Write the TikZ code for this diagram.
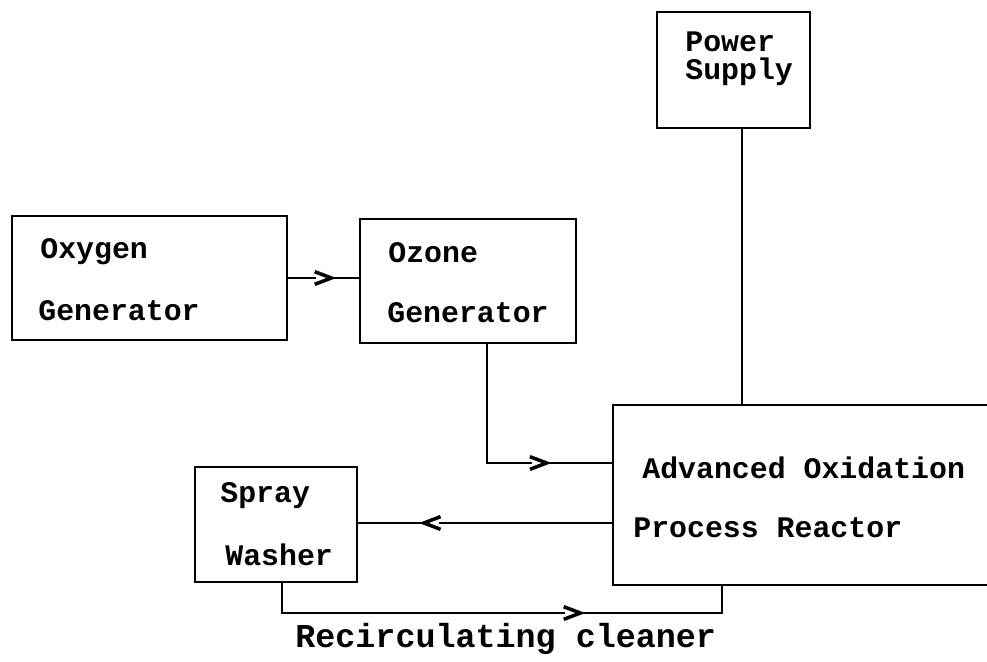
\documentclass[tikz,border=0pt]{standalone}
\usepackage{fontspec}
\usepackage{tikz}
\usetikzlibrary{decorations.markings}
\newfontfamily\typer{Liberation Mono}
\newcommand{\boxfont}{\typer\bfseries\fontsize{17}{20}\selectfont}
\newcommand{\capfont}{\typer\bfseries\fontsize{19}{22}\selectfont}

\begin{document}
\begin{tikzpicture}[x=0.02cm, y=-0.02cm,
    box/.style={draw, line width=1.5pt, inner sep=0pt},
    lbl/.style={anchor=base west, inner sep=0pt, font=\boxfont},
    wire/.style={line width=1.5pt},
    chev/.style={postaction={decorate, decoration={markings,
        mark=at position #1 with {
            \fill[white] (-4pt,-3pt) rectangle (4pt,3pt);
            \draw[line width=2pt] (-5pt,3.6pt) -- (4.5pt,0pt) -- (-5pt,-3.6pt);}}}}]
    \clip (0,0) rectangle (987,662);
    % Boxes
    \node[box, minimum width=5.5cm, minimum height=2.48cm] (oxy) at (149.5,278) {};
    \node[box, minimum width=4.32cm, minimum height=2.48cm] (ozone) at (468,281) {};
    \node[box, minimum width=3.06cm, minimum height=2.32cm] (power) at (733.5,70) {};
    \node[box, minimum width=8.54cm, minimum height=3.6cm] (reactor) at (826.5,495) {};
    \node[box, minimum width=3.24cm, minimum height=2.3cm] (spray) at (276,524.5) {};
    % Labels
    \node[lbl] (oxy1) at (40,258) {Oxygen};
    \node[lbl] (oxy2) at (38,320) {Generator};
    \node[lbl] (ozone1) at (388,262) {Ozone};
    \node[lbl] (ozone2) at (387,322) {Generator};
    \node[lbl] (power1) at (685,52) {Power};
    \node[lbl] (power2) at (685,80) {Supply};
    \node[lbl] (reactor1) at (642,478) {Advanced Oxidation};
    \node[lbl] (reactor2) at (633,537) {Process Reactor};
    \node[lbl] (spray1) at (220,502) {Spray};
    \node[lbl] (spray2) at (225,565) {Washer};
    % Connectors
    \draw[wire, chev=0.5] (oxy.east) -- (oxy.east -| ozone.west);
    \coordinate (ozout) at ([xshift=0.38cm]ozone.south);
    \coordinate (rin) at ([yshift=0.64cm]reactor.west);
    \draw[wire, chev=0.7] (ozout) |- (rin);
    \coordinate (pwout) at ([xshift=0.17cm]power.south);
    \draw[wire] (pwout) -- (pwout |- reactor.north);
    \coordinate (rout) at ([yshift=-0.56cm]reactor.west);
    \draw[wire, chev=0.71] (rout) -- (rout -| spray.east);
    \coordinate (swout) at ([xshift=0.12cm]spray.south);
    \coordinate (rret) at ([xshift=-2.09cm]reactor.south);
    \coordinate (low) at (0,613);
    \draw[wire, chev=0.645] (swout) -- (swout |- low) -- (rret |- low) -- (rret);
    \node[lbl, font=\capfont] (recirc) at (295,647) {Recirculating cleaner};
\end{tikzpicture}
\end{document}
